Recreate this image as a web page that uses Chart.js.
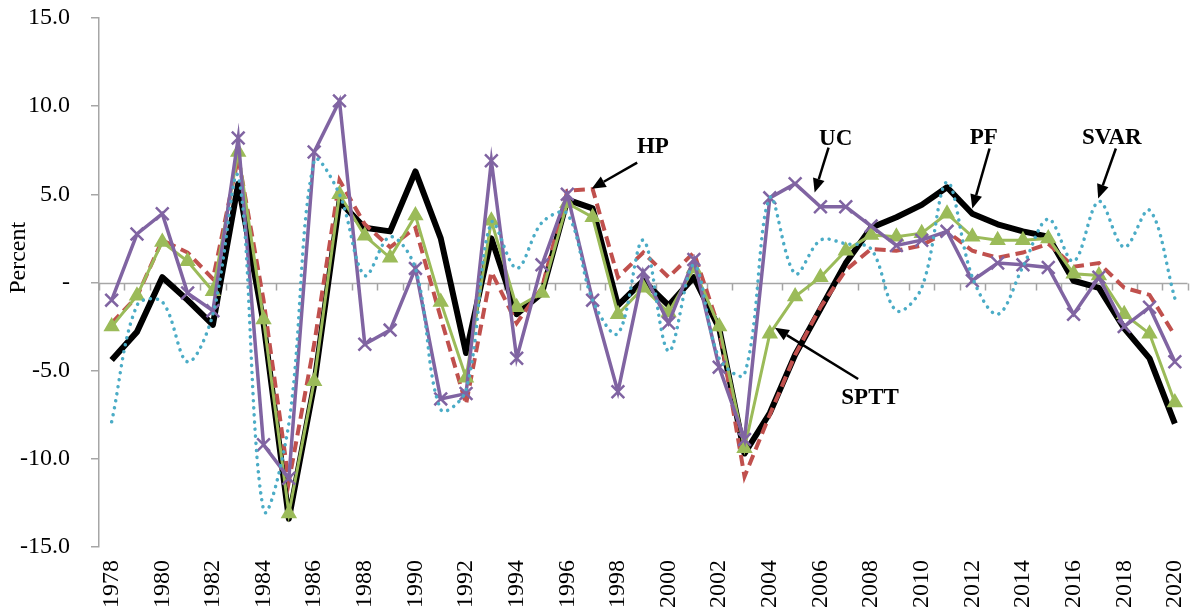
<!DOCTYPE html>
<html>
<head>
<meta charset="utf-8">
<title>Output gap estimates</title>
<script src="https://cdn.jsdelivr.net/npm/chart.js@4.4.1/dist/chart.umd.min.js"></script>
<style>
  html, body { margin: 0; padding: 0; background: #fff; }
  #wrap { width: 1199px; height: 612px; }
</style>
</head>
<body>
<div id="wrap"><canvas id="gapChart"></canvas></div>
<script>
// Jahre (Kategorien)
const years = ['1978','1979','1980','1981','1982','1983','1984','1985','1986','1987',
               '1988','1989','1990','1991','1992','1993','1994','1995','1996','1997',
               '1998','1999','2000','2001','2002','2003','2004','2005','2006','2007',
               '2008','2009','2010','2011','2012','2013','2014','2015','2016','2017',
               '2018','2019','2020'];

// Output-Lücke je Methode, in Prozent
const pf = [-4.4, -2.8, 0.3, -1.0, -2.4, 5.6, -2.3, -13.4, -5.8, 4.6,
            3.1, 2.9, 6.3, 2.5, -4.0, 2.5, -1.8, -0.6, 4.7, 4.2,
            -1.3, 0.1, -1.3, 0.3, -2.6, -9.7, -7.4, -4.1, -1.5, 1.1,
            3.1, 3.7, 4.4, 5.4, 3.9, 3.3, 2.9, 2.6, 0.1, -0.3,
            -2.6, -4.3, -8.0];
const hp = [-2.3, -0.8, 2.4, 1.7, 0.2, 7.1, -1.0, -11.3, -3.5, 5.8,
            3.3, 2.0, 3.1, -2.0, -6.9, 0.6, -2.3, -0.3, 5.2, 5.3,
            0.3, 1.7, 0.3, 1.7, -2.6, -11.0, -7.5, -4.1, -1.4, 0.7,
            1.9, 1.8, 2.1, 2.9, 1.8, 1.4, 1.7, 2.2, 0.9, 1.1,
            -0.3, -0.7, -3.0];
const uc = [-1.0, 2.75, 3.9, -0.6, -1.6, 8.2, -9.2, -11.1, 7.4, 10.3,
            -3.5, -2.7, 0.8, -6.6, -6.3, 6.9, -4.3, 1.0, 5.0, -1.0,
            -6.2, 0.6, -2.3, 1.3, -4.8, -8.9, 4.8, 5.6, 4.3, 4.3,
            3.2, 2.1, 2.4, 2.9, 0.1, 1.1, 1.0, 0.85, -1.8, 0.3,
            -2.5, -1.4, -4.5];
const sptt = [-2.5, -0.75, 2.3, 1.2, -0.5, 7.4, -2.1, -13.1, -5.6, 5.0,
              2.65, 1.4, 3.8, -1.1, -5.4, 3.5, -1.4, -0.6, 4.5, 3.7,
              -1.8, -0.3, -1.7, 0.8, -2.5, -9.4, -2.9, -0.8, 0.3, 1.8,
              2.7, 2.6, 2.8, 3.9, 2.6, 2.4, 2.4, 2.5, 0.5, 0.4,
              -1.8, -2.9, -6.8];
const svar = [-7.9, -1.3, -1.1, -4.5, -1.8, 6.0, -12.9, -8.0, 6.9, 5.0,
              0.4, 2.6, 0.8, -7.2, -6.1, 3.4, 0.8, 3.4, 3.9, -1.0,
              -2.9, 2.4, -3.9, 1.0, -4.3, -5.2, 4.8, 0.5, 2.4, 2.2,
              1.9, -1.6, -0.3, 5.7, 0.3, -1.8, 0.9, 3.6, 1.2, 4.6,
              2.0, 4.1, -0.9];

// Beschriftungen mit Pfeil (Kategorie-Index, Wert)
const notes = [
    { text: 'HP',   textAt: [21.38, 7.37],  from: [20.76, 6.8],  to: [18.96, 5.32] },
    { text: 'UC',   textAt: [28.6, 7.77],   from: [28.32, 7.65], to: [27.77, 5.1] },
    { text: 'PF',   textAt: [34.45, 7.88],  from: [34.68, 7.6],  to: [34.0, 4.19] },
    { text: 'SVAR', textAt: [39.51, 7.88],  from: [39.67, 7.6],  to: [38.97, 4.76] },
    { text: 'SPTT', textAt: [29.96, -6.9],  from: [29.49, -5.47], to: [26.2, -2.57] }
];

const serif = 'Liberation Serif';

// Nulllinie mit Teilstrichen zwischen den Jahren, dazu der Achsentitel
const zeroAxis = {
    id: 'zeroAxis',
    beforeDatasetsDraw(chart) {
        const { ctx, chartArea, scales: { x, y } } = chart;
        const y0 = Math.round(y.getPixelForValue(0)) + 0.5;
        ctx.save();
        ctx.strokeStyle = '#a6a6a6';
        ctx.lineWidth = 1.5;
        ctx.beginPath();
        ctx.moveTo(chartArea.left, y0);
        ctx.lineTo(chartArea.right, y0);
        for (let i = 0; i <= years.length; i++) {
            const px = Math.round(x.getPixelForValue(i - 0.5)) + 0.5;
            ctx.moveTo(px, y0);
            ctx.lineTo(px, y0 + 7);
        }
        ctx.stroke();

        // "Percent" etwas oberhalb der Mitte, wie im Original
        ctx.translate(19, y.getPixelForValue(1.4));
        ctx.rotate(-Math.PI / 2);
        ctx.font = `24px "${serif}"`;
        ctx.fillStyle = '#000';
        ctx.textAlign = 'center';
        ctx.textBaseline = 'middle';
        ctx.fillText('Percent', 0, 0);
        ctx.restore();
    }
};

const callouts = {
    id: 'callouts',
    afterDatasetsDraw(chart) {
        const { ctx, scales: { x, y } } = chart;
        ctx.save();
        ctx.font = `bold 23px "${serif}"`;
        ctx.textAlign = 'center';
        ctx.textBaseline = 'alphabetic';
        ctx.fillStyle = '#000';
        ctx.strokeStyle = '#000';
        ctx.lineWidth = 2.5;
        notes.forEach(n => {
            ctx.fillText(n.text, x.getPixelForValue(n.textAt[0]), y.getPixelForValue(n.textAt[1]));
            const x1 = x.getPixelForValue(n.from[0]), y1 = y.getPixelForValue(n.from[1]);
            const x2 = x.getPixelForValue(n.to[0]), y2 = y.getPixelForValue(n.to[1]);
            const ang = Math.atan2(y2 - y1, x2 - x1);
            const head = 14, half = 6;
            const bx = x2 - head * Math.cos(ang), by = y2 - head * Math.sin(ang);
            ctx.beginPath();
            ctx.moveTo(x1, y1);
            ctx.lineTo(bx, by);
            ctx.stroke();
            ctx.beginPath();
            ctx.moveTo(x2, y2);
            ctx.lineTo(bx + half * Math.sin(ang), by - half * Math.cos(ang));
            ctx.lineTo(bx - half * Math.sin(ang), by + half * Math.cos(ang));
            ctx.closePath();
            ctx.fill();
        });
        ctx.restore();
    }
};

new Chart(document.getElementById('gapChart'), {
    type: 'line',
    data: {
        labels: years,
        datasets: [
            { label: 'PF', data: pf, borderColor: '#000000', borderWidth: 6,
              pointRadius: 0, borderJoinStyle: 'round', order: 5 },
            { label: 'HP', data: hp, borderColor: '#C0504D', borderWidth: 4,
              borderDash: [11, 6], pointRadius: 0, order: 4 },
            { label: 'SPTT', data: sptt, borderColor: '#9BBB59', backgroundColor: '#9BBB59',
              borderWidth: 3, pointStyle: 'triangle', pointRadius: 6.5,
              pointBackgroundColor: '#9BBB59', pointBorderColor: '#9BBB59', order: 3 },
            { label: 'UC', data: uc, borderColor: '#8064A2', borderWidth: 3.5,
              pointStyle: 'crossRot', pointRadius: 9, pointBorderWidth: 2.5,
              pointBorderColor: '#8064A2', order: 2 },
            { label: 'SVAR', data: svar, borderColor: '#4BACC6', borderWidth: 3.5,
              borderDash: [0.1, 7], borderCapStyle: 'round', tension: 0.35,
              pointRadius: 0, order: 1 }
        ]
    },
    options: {
        responsive: true,
        maintainAspectRatio: false,
        animation: false,
        layout: { padding: { top: 18, right: 2, bottom: 0, left: 0 } },
        plugins: {
            legend: { display: false },
            tooltip: { enabled: false }
        },
        scales: {
            x: {
                offset: true,
                grid: { display: false, drawTicks: false },
                border: { display: false },
                ticks: {
                    autoSkip: false,
                    minRotation: 90,
                    maxRotation: 90,
                    padding: 13,
                    color: '#000',
                    font: { family: serif, size: 24 },
                    callback: function (v, i) {
                        return i % 2 === 0 ? this.getLabelForValue(v) : null;
                    }
                },
                afterFit(scale) {
                    scale.height = 65;
                    scale.paddingLeft = 0;
                    scale.paddingRight = 0;
                }
            },
            y: {
                min: -15,
                max: 15,
                ticks: {
                    stepSize: 5,
                    padding: 21,
                    color: '#000',
                    font: { family: serif, size: 24 },
                    callback: v => v === 0 ? '-' : v.toFixed(1)
                },
                grid: { drawOnChartArea: false, drawTicks: true, tickLength: 8,
                        color: '#a6a6a6', lineWidth: 1.5 },
                border: { display: true, color: '#a6a6a6', width: 1.5 },
                afterFit(scale) {
                    scale.width = 99;
                    scale.paddingTop = 0;
                    scale.paddingBottom = 0;
                }
            }
        }
    },
    plugins: [zeroAxis, callouts]
});
</script>
</body>
</html>
